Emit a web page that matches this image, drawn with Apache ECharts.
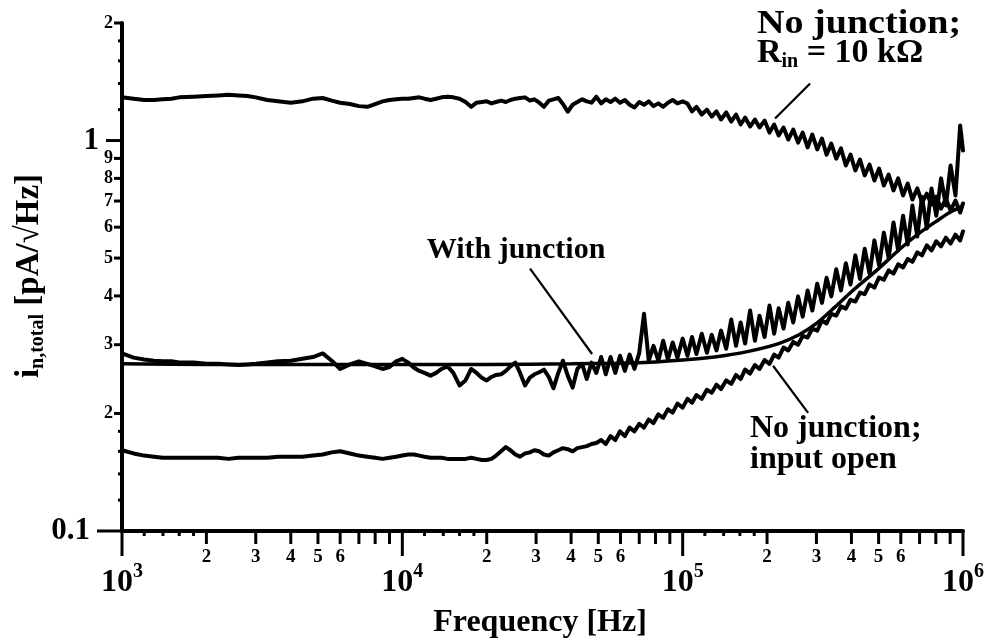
<!DOCTYPE html>
<html>
<head>
<meta charset="utf-8">
<title>Total input current noise vs frequency</title>
<script src="https://cdn.jsdelivr.net/npm/echarts@6/dist/echarts.min.js"></script>
<style>
  html, body { margin: 0; padding: 0; background: #ffffff; }
  #chart { width: 988px; height: 644px; }
</style>
</head>
<body>
<div id="chart"></div>
<script>
// Measurement frequencies (Hz), shared by the three measured spectra
const freqHz = [
  1000, 1100, 1200, 1300, 1400, 1500, 1600, 1800, 2000, 2200,
  2400, 2600, 2800, 3000, 3300, 3600, 4000, 4400, 4800, 5200,
  5600, 6000, 6500, 7000, 7500, 8000, 8500, 9000, 9500, 10000,
  10500, 11000, 11500, 12000, 12600, 13200, 13800, 14500, 15200, 16000,
  16800, 17600, 18400, 19200, 20000, 20800, 21600, 22500, 23400, 24300,
  25300, 26300, 27400, 28500, 29600, 30800, 32000, 33300, 34600, 36000,
  37400, 38900, 40500, 42100, 43800, 45500, 47300, 49200, 51200, 53200,
  55300, 57500, 59800, 62200, 64700, 67300, 70000, 72800, 75700, 78700,
  81900, 85200, 88600, 92100, 95800, 100000,
  104000, 108000, 112000, 117000, 122000, 127000, 132000, 137000, 143000, 149000,
  155000, 161000, 167000, 174000, 181000, 188000, 196000, 204000, 212000, 220000,
  229000, 238000, 248000, 258000, 268000, 279000, 290000, 302000, 314000, 326000,
  339000, 353000, 367000, 382000, 397000, 413000, 429000, 446000, 464000, 483000,
  502000, 522000, 543000, 565000, 587000, 611000, 635000, 660000, 687000, 714000,
  743000, 772000, 803000, 835000, 869000, 903000, 940000, 977000, 1000000
];

// No junction, R_in = 10 kOhm  (pA/sqrt(Hz))
const noJunctionRin = [
  1.29, 1.28, 1.27, 1.27, 1.275, 1.28, 1.29, 1.295, 1.30, 1.305,
  1.31, 1.305, 1.30, 1.29, 1.27, 1.26, 1.25, 1.26, 1.28, 1.285,
  1.265, 1.25, 1.24, 1.225, 1.22, 1.24, 1.26, 1.27, 1.275, 1.28,
  1.28, 1.285, 1.29, 1.28, 1.27, 1.28, 1.29, 1.295, 1.29, 1.28,
  1.255, 1.22, 1.25, 1.255, 1.26, 1.245, 1.255, 1.265, 1.255, 1.27,
  1.28, 1.285, 1.29, 1.266, 1.275, 1.25, 1.22, 1.265, 1.275, 1.285,
  1.24, 1.185, 1.235, 1.255, 1.275, 1.26, 1.25, 1.295, 1.245, 1.275,
  1.255, 1.28, 1.25, 1.27, 1.235, 1.215, 1.255, 1.235, 1.26, 1.225,
  1.245, 1.22, 1.25, 1.27, 1.245, 1.26,
  1.244, 1.187, 1.22, 1.166, 1.20, 1.152, 1.187, 1.132, 1.18, 1.118,
  1.166, 1.099, 1.145, 1.086, 1.132, 1.080, 1.125, 1.048, 1.099, 1.030,
  1.080, 1.006, 1.067, 0.988, 1.048, 0.960, 1.036, 0.949, 1.012, 0.920,
  0.982, 0.899, 0.955, 0.863, 0.920, 0.838, 0.894, 0.814, 0.868, 0.790,
  0.848, 0.767, 0.818, 0.745, 0.800, 0.723, 0.776, 0.706, 0.754, 0.694,
  0.731, 0.686, 0.718, 0.669, 0.710, 0.662, 0.702, 0.654, 0.690
];

// With junction, measured
const withJunction = [
  0.285, 0.278, 0.275, 0.273, 0.272, 0.272, 0.270, 0.270, 0.268, 0.268,
  0.267, 0.266, 0.267, 0.268, 0.270, 0.272, 0.273, 0.276, 0.279, 0.285,
  0.273, 0.260, 0.267, 0.272, 0.268, 0.264, 0.260, 0.263, 0.272, 0.276,
  0.270, 0.262, 0.257, 0.254, 0.250, 0.254, 0.260, 0.264, 0.254, 0.236,
  0.243, 0.260, 0.254, 0.247, 0.243, 0.248, 0.251, 0.252, 0.257, 0.264,
  0.270, 0.254, 0.236, 0.247, 0.252, 0.255, 0.259, 0.248, 0.232, 0.254,
  0.273, 0.250, 0.233, 0.260, 0.268, 0.245, 0.270, 0.254, 0.279, 0.252,
  0.279, 0.254, 0.281, 0.257, 0.283, 0.260, 0.286, 0.360, 0.273, 0.298,
  0.273, 0.307, 0.275, 0.304, 0.278, 0.311, 0.281, 0.314, 0.284, 0.320,
  0.286, 0.318, 0.290, 0.326, 0.293, 0.348, 0.298, 0.342, 0.302, 0.367,
  0.307, 0.356, 0.314, 0.378, 0.320, 0.372, 0.330, 0.384, 0.342, 0.399,
  0.354, 0.413, 0.367, 0.430, 0.384, 0.445, 0.399, 0.468, 0.413, 0.485,
  0.428, 0.508, 0.442, 0.528, 0.456, 0.555, 0.479, 0.581, 0.500, 0.617,
  0.523, 0.642, 0.542, 0.682, 0.568, 0.718, 0.595, 0.754, 0.642, 0.800,
  0.682, 0.863, 0.723, 1.093, 0.943
];

// No junction, input open
const noJunctionOpen = [
  0.161, 0.158, 0.156, 0.155, 0.154, 0.154, 0.154, 0.154, 0.154, 0.154,
  0.153, 0.154, 0.154, 0.154, 0.154, 0.155, 0.155, 0.155, 0.156, 0.157,
  0.159, 0.160, 0.158, 0.156, 0.155, 0.154, 0.153, 0.154, 0.155, 0.156,
  0.157, 0.157, 0.156, 0.155, 0.154, 0.154, 0.154, 0.153, 0.153, 0.153,
  0.153, 0.154, 0.153, 0.152, 0.152, 0.153, 0.156, 0.160, 0.164, 0.161,
  0.157, 0.155, 0.158, 0.159, 0.161, 0.160, 0.157, 0.156, 0.159, 0.161,
  0.163, 0.162, 0.160, 0.163, 0.164, 0.165, 0.167, 0.168,
  0.171, 0.167, 0.175, 0.171, 0.180, 0.175, 0.184, 0.180, 0.188, 0.184,
  0.193, 0.189, 0.199, 0.195, 0.205, 0.201, 0.212, 0.207, 0.218, 0.213,
  0.223, 0.218, 0.230, 0.226, 0.237, 0.231, 0.243, 0.238, 0.251, 0.245,
  0.259, 0.253, 0.266, 0.260, 0.274, 0.268, 0.283, 0.278, 0.295, 0.290,
  0.305, 0.300, 0.316, 0.313, 0.330, 0.326, 0.346, 0.340, 0.360, 0.356,
  0.376, 0.371, 0.391, 0.387, 0.408, 0.404, 0.428, 0.420, 0.446, 0.440,
  0.465, 0.456, 0.482, 0.473, 0.497, 0.489, 0.517, 0.508, 0.539, 0.523,
  0.552, 0.536, 0.564, 0.545, 0.574, 0.555, 0.585
];

// With junction, calculated (smooth curve)
const modelFreqHz = [
  1000, 2000, 5000, 10000, 20000, 40000, 60000, 80000, 100000, 130000,
  170000, 220000, 260000, 300000, 350000, 400000, 500000, 600000, 700000, 800000,
  900000, 1000000
];
const withJunctionModel = [
  0.268, 0.267, 0.267, 0.267, 0.267, 0.268, 0.269, 0.271, 0.274, 0.279,
  0.288, 0.302, 0.318, 0.340, 0.375, 0.410, 0.470, 0.530, 0.580, 0.620,
  0.655, 0.680
];

// Axis ticks and their labels
const xDecadeHz = [1000, 10000, 100000, 1000000];
const xDecadeExp = ['3', '4', '5', '6'];
const xMinorHz = [
  2000, 3000, 4000, 5000, 6000, 7000, 8000, 9000,
  20000, 30000, 40000, 50000, 60000, 70000, 80000, 90000,
  200000, 300000, 400000, 500000, 600000, 700000, 800000, 900000
];
const xMinorText = [
  '2', '3', '4', '5', '6', '', '', '',
  '2', '3', '4', '5', '6', '', '', '',
  '2', '3', '4', '5', '6', '', '', ''
];
const xFineHz = [1200, 1400, 1600, 1800, 12000, 14000, 16000, 18000, 120000, 140000, 160000, 180000];
const yMajor = [0.1, 1];
const yMajorText = ['0.1', '1'];
const yMinor = [0.2, 0.3, 0.4, 0.5, 0.6, 0.7, 0.8, 0.9, 2];
const yMinorText = ['2', '3', '4', '5', '6', '7', '8', '9', '2'];
const yFine = [0.12, 0.14, 0.16, 0.18, 1.2, 1.4, 1.6, 1.8];

// Leader lines from the curve labels to the curves (Hz, pA/sqrt(Hz))
const rinLeader = [[284800, 1.40], [213600, 1.139]];
const junctionLeader = [[28550, 0.470], [47520, 0.284]];
const openLeader = [[280200, 0.2008], [210100, 0.265]];

const X_MIN = 1000, X_MAX = 1000000, Y_MIN = 0.1, Y_MAX = 2;
const FONT = '"Liberation Serif", "Times New Roman", serif';
const INK = '#000000';

function pairs(xs, ys) { return xs.map((x, i) => [x, ys[i]]); }

function leader(pts) {
  return {
    silent: true, symbol: 'none', animation: false,
    label: { show: false },
    lineStyle: { color: INK, width: 2.2, type: 'solid' },
    data: [[{ coord: pts[0] }, { coord: pts[1] }]]
  };
}

function curve(name, data, extra) {
  return Object.assign({
    type: 'line', name, data, symbol: 'none', showSymbol: false,
    lineStyle: { color: INK, width: 4, join: 'round', cap: 'round' },
    itemStyle: { color: INK }, animation: false, z: 3
  }, extra || {});
}

// x-axis ticks, drawn below the axis line
function xTicks(values, len, width, texts, decade) {
  return {
    type: 'custom', coordinateSystem: 'cartesian2d', silent: true, clip: false, z: 6,
    data: values.map(v => [v, Y_MIN]),
    renderItem(params, api) {
      const p = api.coord([api.value(0), Y_MIN]);
      const kids = [{
        type: 'line',
        shape: { x1: p[0], y1: p[1], x2: p[0], y2: p[1] + len },
        style: { stroke: INK, lineWidth: width }
      }];
      const t = texts ? texts[params.dataIndex] : '';
      if (t && !decade) {
        kids.push({ type: 'text', x: p[0], y: p[1] + 26,
          style: { text: t, font: 'bold 19px ' + FONT, fill: INK, align: 'center', verticalAlign: 'middle' } });
      }
      if (t && decade) {
        kids.push({ type: 'text', x: p[0] + 11, y: p[1] + 52,
          style: { text: '10', font: 'bold 32px ' + FONT, fill: INK, align: 'right', verticalAlign: 'middle' } });
        kids.push({ type: 'text', x: p[0] + 11, y: p[1] + 41,
          style: { text: t, font: 'bold 20px ' + FONT, fill: INK, align: 'left', verticalAlign: 'middle' } });
      }
      return { type: 'group', children: kids };
    }
  };
}

// y-axis ticks, drawn left of the axis line
function yTicks(values, lens, width, texts, fontSize, gap) {
  return {
    type: 'custom', coordinateSystem: 'cartesian2d', silent: true, clip: false, z: 6,
    data: values.map(v => [X_MIN, v]),
    renderItem(params, api) {
      const p = api.coord([X_MIN, api.value(1)]);
      const len = lens[params.dataIndex % lens.length];
      const kids = [{
        type: 'line',
        shape: { x1: p[0] - len, y1: p[1], x2: p[0], y2: p[1] },
        style: { stroke: INK, lineWidth: width }
      }];
      const t = texts ? texts[params.dataIndex] : '';
      if (t) {
        kids.push({ type: 'text', x: p[0] - len - gap, y: p[1],
          style: { text: t, font: 'bold ' + fontSize + 'px ' + FONT, fill: INK, align: 'right', verticalAlign: 'middle' } });
      }
      return { type: 'group', children: kids };
    }
  };
}

const chart = echarts.init(document.getElementById('chart'), null, { renderer: 'canvas' });

chart.setOption({
  backgroundColor: '#ffffff',
  animation: false,
  textStyle: { fontFamily: FONT },
  grid: { left: 122, right: 25, top: 23, bottom: 113, containLabel: false },
  xAxis: {
    type: 'log', logBase: 10, min: X_MIN, max: X_MAX,
    axisLine: { show: true, onZero: false, lineStyle: { color: INK, width: 4 } },
    axisTick: { show: false }, axisLabel: { show: false },
    splitLine: { show: false }, minorTick: { show: false }
  },
  yAxis: {
    type: 'log', logBase: 10, min: Y_MIN, max: Y_MAX,
    axisLine: { show: true, onZero: false, lineStyle: { color: INK, width: 4 } },
    axisTick: { show: false }, axisLabel: { show: false },
    splitLine: { show: false }, minorTick: { show: false }
  },
  graphic: [
    { type: 'text', x: 29, y: 276, rotation: Math.PI / 2,
      style: { text: '{m|i}{s|n,total}{m| [pA/√Hz]}', fill: INK, align: 'center', verticalAlign: 'middle',
        rich: { m: { font: 'bold 33px ' + FONT, fill: INK }, s: { font: 'bold 20px ' + FONT, fill: INK, padding: [18, 0, 0, 0] } } } },
    { type: 'text', x: 540, y: 623,
      style: { text: 'Frequency [Hz]', font: 'bold 32px ' + FONT, fill: INK, align: 'center', verticalAlign: 'middle' } },
    { type: 'text', x: 757, y: 24, scaleX: 1.12,
      style: { text: 'No junction;', font: 'bold 34px ' + FONT, fill: INK, align: 'left', verticalAlign: 'middle' } },
    { type: 'text', x: 757, y: 53,
      style: { text: '{m|R}{s|in}{m| = 10 kΩ}', fill: INK, align: 'left', verticalAlign: 'middle',
        rich: { m: { font: 'bold 34px ' + FONT, fill: INK }, s: { font: 'bold 20px ' + FONT, fill: INK, padding: [18, 0, 0, 0] } } } },
    { type: 'text', x: 516, y: 250,
      style: { text: 'With junction', font: 'bold 30px ' + FONT, fill: INK, align: 'center', verticalAlign: 'middle' } },
    { type: 'text', x: 750, y: 429,
      style: { text: 'No junction;', font: 'bold 32px ' + FONT, fill: INK, align: 'left', verticalAlign: 'middle' } },
    { type: 'text', x: 750, y: 460,
      style: { text: 'input open', font: 'bold 32px ' + FONT, fill: INK, align: 'left', verticalAlign: 'middle' } }
  ],
  series: [
    curve('No junction; R_in = 10 kΩ', pairs(freqHz, noJunctionRin), { markLine: leader(rinLeader) }),
    curve('With junction', pairs(freqHz, withJunction), { markLine: leader(junctionLeader) }),
    curve('With junction (calculated)', pairs(modelFreqHz, withJunctionModel),
      { smooth: 0.3, lineStyle: { color: INK, width: 3.5 } }),
    curve('No junction; input open', pairs(freqHz, noJunctionOpen), { markLine: leader(openLeader) }),
    xTicks(xDecadeHz, 25, 3, xDecadeExp, true),
    xTicks(xMinorHz, 13, 3, xMinorText, false),
    xTicks(xFineHz, 5, 3, null, false),
    yTicks(yMajor, [25, 16], 3, yMajorText, 31, 7),
    yTicks(yMinor, [8], 3, yMinorText, 18, 1),
    yTicks(yFine, [4], 3, null, 18, 1)
  ]
});
</script>
</body>
</html>
